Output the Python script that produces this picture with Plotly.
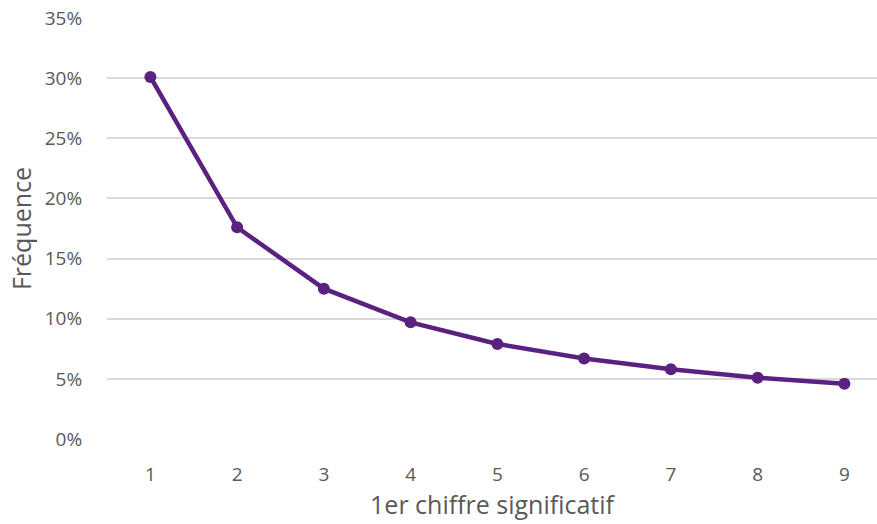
import plotly.graph_objects as go

digits = [1, 2, 3, 4, 5, 6, 7, 8, 9]
freq = [0.301, 0.176, 0.125, 0.097, 0.079, 0.067, 0.058, 0.051, 0.046]

color = "#5b2180"
fig = go.Figure()
fig.add_trace(go.Scatter(
    x=digits, y=freq, mode="lines+markers",
    line=dict(color=color, width=4.5),
    marker=dict(color=color, size=12),
    showlegend=False, hoverinfo="skip",
))

font = "Open Sans, Liberation Sans, sans-serif"
fig.update_layout(
    width=877, height=524,
    margin=dict(l=107, r=0, t=18, b=85),
    paper_bgcolor="white", plot_bgcolor="white",
    font=dict(family=font, color="#595959", size=19),
    xaxis=dict(
        range=[0.5, 0.5 + 770 / 86.75],
        tickmode="array", tickvals=digits, ticktext=[str(d) for d in digits],
        tickfont=dict(size=19, color="#595959"),
        showgrid=False, zeroline=False, showline=False,
        ticks="outside", ticklen=18, tickcolor="rgba(0,0,0,0)",
        title=dict(text="1er chiffre significatif", font=dict(size=25, color="#595959"), standoff=10),
    ),
    yaxis=dict(
        range=[0, 0.35],
        tickmode="array", tickvals=[0, 0.05, 0.1, 0.15, 0.2, 0.25, 0.3, 0.35],
        tickformat=".0%",
        tickfont=dict(size=19, color="#595959"),
        showgrid=True, gridcolor="#d9d9d9", gridwidth=1.5,
        zeroline=False, showline=False,
        ticks="outside", ticklen=20, tickcolor="rgba(0,0,0,0)",
        title=dict(text="Fréquence", font=dict(size=25, color="#595959"), standoff=6),
    ),
)

fig.write_html("out.html")
